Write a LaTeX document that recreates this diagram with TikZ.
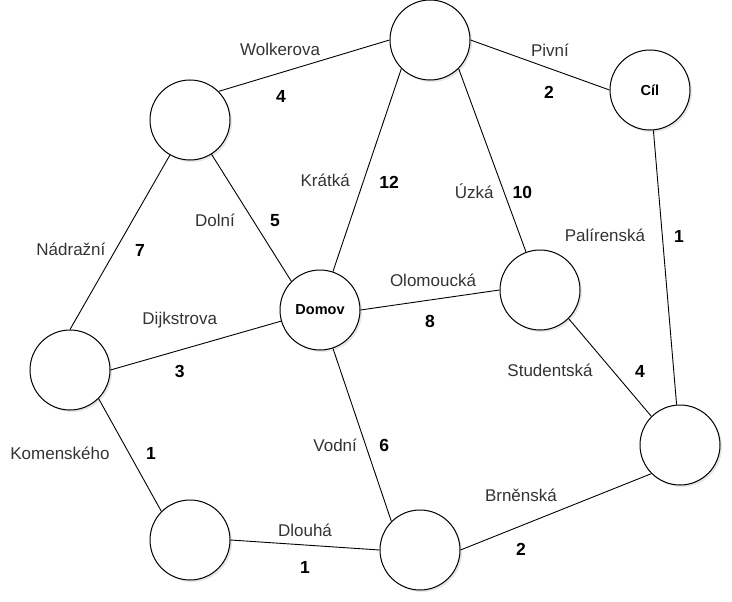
\documentclass[tikz,border=0pt]{standalone}
\usepackage{fontspec}
\setmainfont{Liberation Sans}
\usetikzlibrary{positioning,shadows}

\begin{document}
\begin{tikzpicture}[x=1pt,y=-1pt,on grid,
  node/.style={circle,draw,fill=white,line width=1pt,minimum size=80pt,inner sep=0pt,font=\bfseries\fontsize{14.5}{16}\selectfont,drop shadow={opacity=.2,shadow xshift=2pt,shadow yshift=-2pt}},
  street/.style={text=black!80,font=\fontsize{17}{19}\selectfont,inner sep=0pt},
  weight/.style={font=\bfseries\fontsize{17.5}{19}\selectfont,inner sep=0pt}]
  \useasboundingbox (0,0) rectangle (732,602);
  \node[node] (4) at (320,310) {Domov};
  \node[node] (1) [above left=190pt and 130pt of 4] {};
  \node[node] (2) [above right=270pt and 110pt of 4] {};
  \node[node] (3) [below right=50pt and 220pt of 2] {Cíl};
  \node[node] (5) [above right=20pt and 220pt of 4] {};
  \node[node] (6) [below left=60pt and 250pt of 4] {};
  \node[node] (7) [below right=170pt and 120pt of 6] {};
  \node[node] (8) [below right=240pt and 100pt of 4] {};
  \node[node] (9) [below right=155pt and 140pt of 5] {};

  \path[line width=.9pt]
    (1.north east) edge node[street,xshift=-24pt,yshift=16pt] {Wolkerova} node[weight,xshift=-23pt,yshift=-31pt] {4} (2.west)
    (2.east) edge node[street,xshift=10pt,yshift=15pt] {Pivní} node[weight,xshift=9pt,yshift=-27pt] {2} (3.west)
    (3) edge node[street,xshift=-60pt,yshift=32.5pt] {Palírenská} node[weight,xshift=14pt,yshift=31.5pt] {1} (9)
    (2.south west) edge node[street,xshift=-42pt,yshift=-10pt] {Krátká} node[weight,xshift=22pt,yshift=-12pt] {12} (4)
    (2.south east) edge node[street,xshift=-18pt,yshift=-31pt] {Úzká} node[weight,xshift=30pt,yshift=-32pt] {10} (5)
    (1) edge node[street,xshift=-36.5pt,yshift=-2pt] {Dolní} node[weight,xshift=23.5pt,yshift=-3pt] {5} (4.north west)
    (6.north) edge node[street,xshift=-49pt,yshift=-7.5pt] {Nádražní} node[weight,xshift=20pt,yshift=-8.5pt] {7} (1)
    (6.east) edge node[street,xshift=-16pt,yshift=25.5pt] {Dijkstrova} node[weight,xshift=-16pt,yshift=-25.5pt] {3} (4)
    (6.south east) edge node[street,xshift=-70pt,yshift=2pt] {Komenského} node[weight,xshift=21pt,yshift=2pt] {1} (7.north west)
    (7.east) edge node[street,yshift=15pt] {Dlouhá} node[weight,yshift=-22pt] {1} (8.west)
    (4) edge node[street,xshift=-27pt,yshift=-10pt] {Vodní} node[weight,xshift=22pt,yshift=-11pt] {6} (8.north west)
    (8.east) edge node[street,xshift=-35pt,yshift=16.5pt] {Brněnská} node[weight,xshift=-35pt,yshift=-38pt] {2} (9.south west)
    (5.south east) edge node[street,xshift=-60pt,yshift=-2.5pt] {Studentská} node[weight,xshift=30pt,yshift=-3.5pt] {4} (9.north west)
    (4.east) edge node[street,xshift=3pt,yshift=20pt] {Olomoucká} node[weight,yshift=-21pt] {8} (5.west);
\end{tikzpicture}
\end{document}
